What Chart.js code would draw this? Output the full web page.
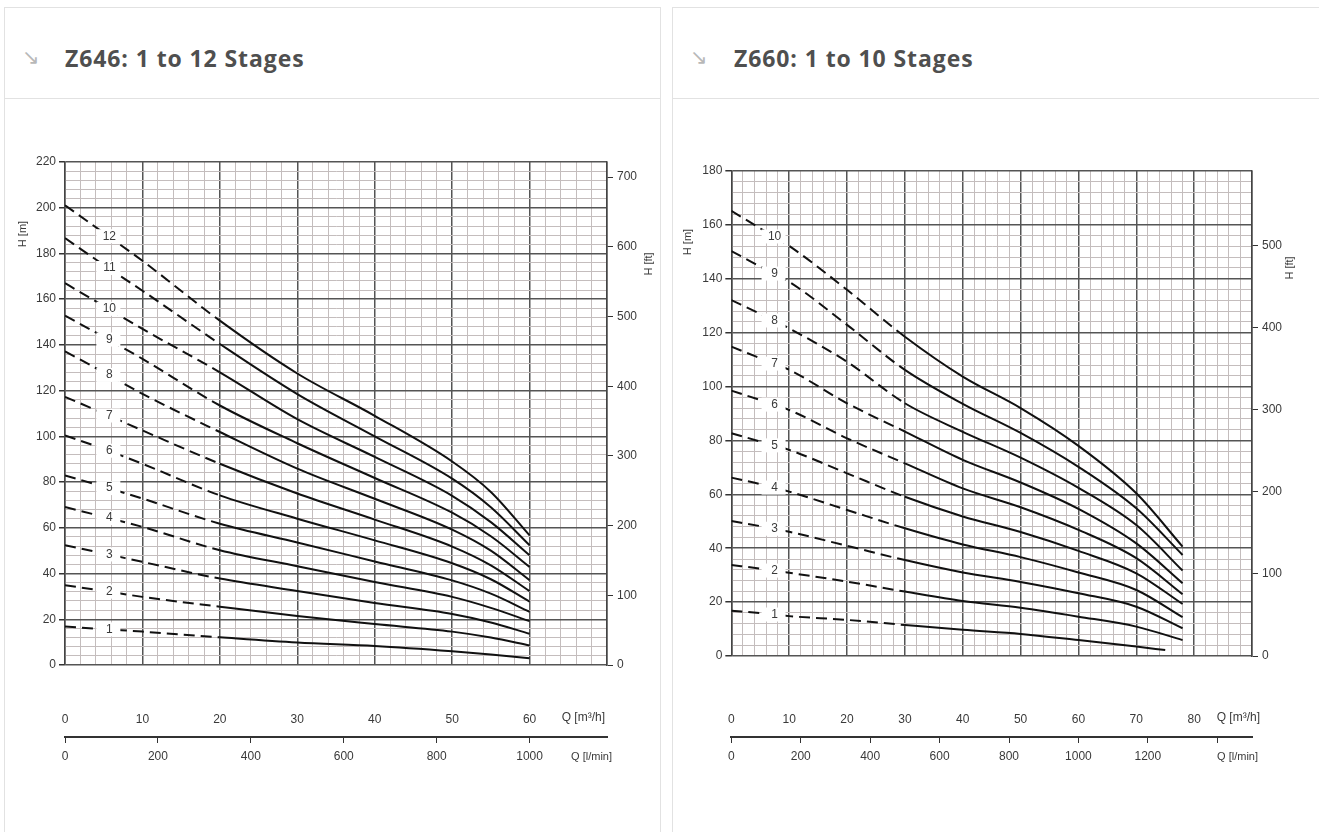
<!DOCTYPE html>
<html lang="en">
<head>
<meta charset="UTF-8">
<title>Z646 / Z660 pump curves</title>
<script src="https://cdn.jsdelivr.net/npm/chart.js"></script>
<style>
  body { margin: 0; background: #fff; width: 1319px; height: 832px; overflow: hidden; position: relative; }
  .card { position: absolute; top: 7px; height: 860px; border: 1px solid #e2e2e2; box-sizing: border-box; }
  .head { position: absolute; left: 0; right: 0; top: 0; height: 90px; border-bottom: 1px solid #e2e2e2; }
  .head .arrow { position: absolute; left: 17px; top: 37px; font: 21px "DejaVu Sans", sans-serif; color: #b8b8b8; }
  .head .title { position: absolute; top: 34px; font: bold 23px "Open Sans", Lato, sans-serif; letter-spacing: 0.9px; color: #4f4f4f; }
  .plot { position: absolute; top: 100px; }
</style>
</head>
<body>
<div class="card" style="left:4px; width:657px;">
  <div class="head"><span class="arrow">↘</span><span class="title" style="left:60px;">Z646: 1 to 12 Stages</span></div>
</div>
<div class="card" style="left:672px; width:660px;">
  <div class="head"><span class="arrow">↘</span><span class="title" style="left:61px;">Z660: 1 to 10 Stages</span></div>
</div>
<div class="plot" style="left:5px;"><canvas id="z646" width="650" height="680"></canvas></div>
<div class="plot" style="left:672px;"><canvas id="z660" width="647" height="680"></canvas></div>

<script>
// Z646 - flow Q [m3/h] and head H [m] per number of stages
const qZ646 = [0, 5, 10, 20, 30, 40, 50, 55, 60];
const z646S1  = [16.8, 15.7, 14.6, 12.1, 9.8, 8.3, 6.0, 4.6, 2.9];
const z646S2  = [34.9, 32.4, 29.8, 25.5, 21.4, 17.9, 14.6, 12.0, 8.5];
const z646S3  = [52.4, 48.8, 45.1, 37.8, 32.4, 27.1, 22.3, 18.6, 13.7];
const z646S4  = [69.1, 64.8, 60.4, 50.2, 43.2, 36.3, 29.8, 25.0, 19.2];
const z646S5  = [82.9, 78.0, 72.8, 61.8, 53.6, 45.3, 37.0, 31.2, 23.3];
const z646S6  = [100.4, 94.5, 88.0, 74.2, 64.0, 54.5, 44.5, 37.5, 27.7];
const z646S7  = [117.3, 110.0, 102.6, 88.0, 75.0, 63.6, 51.8, 43.6, 32.3];
const z646S8  = [137.2, 128.0, 118.6, 101.9, 85.9, 72.7, 59.2, 50.0, 37.1];
const z646S9  = [152.8, 143.5, 133.9, 113.5, 97.0, 81.8, 66.6, 56.3, 42.9];
const z646S10 = [167.0, 157.0, 147.0, 128.0, 107.5, 91.0, 74.0, 62.5, 48.0];
const z646S11 = [186.7, 175.0, 163.7, 140.4, 118.5, 100.0, 81.5, 69.0, 52.4];
const z646S12 = [201.1, 189.0, 176.8, 150.6, 127.5, 109.0, 89.0, 75.7, 56.7];
const z646FtTicks = [0, 100, 200, 300, 400, 500, 600, 700];
const z646LminTicks = [0, 200, 400, 600, 800, 1000];

// Z660
const qZ660 = [0, 5, 10, 20, 30, 40, 50, 60, 70, 78];
const qZ660S1 = [0, 5, 10, 20, 30, 40, 50, 60, 70, 75];
const z660S1  = [16.8, 15.9, 14.8, 13.4, 11.5, 9.7, 8.2, 5.9, 3.5, 2.2];
const z660S2  = [33.8, 32.4, 30.9, 27.6, 23.9, 20.4, 17.9, 14.6, 10.9, 5.9];
const z660S3  = [50.1, 48.2, 46.1, 40.9, 35.6, 31.0, 27.5, 23.3, 18.3, 10.3];
const z660S4  = [66.2, 63.8, 61.0, 54.2, 47.4, 41.4, 36.7, 31.0, 24.5, 14.4];
const z660S5  = [82.7, 79.6, 76.5, 67.8, 59.1, 51.8, 46.0, 39.0, 30.7, 19.3];
const z660S6  = [98.5, 95.0, 91.3, 80.8, 71.5, 62.2, 55.2, 46.8, 36.3, 22.9];
const z660S7  = [114.8, 110.5, 106.2, 93.8, 83.3, 72.8, 64.4, 54.6, 41.8, 27.0];
const z660S8  = [132.1, 127.0, 121.6, 109.2, 93.8, 83.2, 73.6, 62.4, 48.6, 31.7];
const z660S9  = [150.3, 144.5, 138.9, 122.9, 106.2, 93.6, 82.8, 70.2, 54.8, 37.5];
const z660S10 = [165.2, 158.7, 152.2, 135.9, 118.5, 103.7, 92.0, 78.0, 60.4, 40.6];
const z660FtTicks = [0, 100, 200, 300, 400, 500];
const z660LminTicks = [0, 200, 400, 600, 800, 1000, 1200, 1400];

const FT_PER_M = 3.28084;
const LMIN_PER_M3H = 1000 / 60;
const tickFont = { family: "'Liberation Sans', Arial, sans-serif", size: 12 };
const inkColor = '#3a3a3a';
const majorGrid = '#555';
const minorGrid = '#c4bdbd';

function pts(q, h) {
  return q.map((v, i) => ({ x: v, y: h[i] }));
}

// y pixel of a drawn curve at a given x pixel (for placing the stage numbers)
function yOnCurve(points, px) {
  for (let i = 1; i < points.length; i++) {
    const a = points[i - 1], b = points[i];
    if (px >= a.x && px <= b.x) return a.y + (b.y - a.y) * (px - a.x) / (b.x - a.x);
  }
  return points[0].y;
}

const annotate = {
  id: 'annotate',
  afterDatasetsDraw(chart, args, o) {
    const { ctx, chartArea: ca, scales } = chart;
    ctx.save();
    ctx.font = "12px 'Liberation Sans', Arial, sans-serif";
    ctx.textAlign = 'center';
    ctx.textBaseline = 'middle';
    const px = scales.x.getPixelForValue(o.labelQ);
    chart.data.datasets.forEach((ds, i) => {
      const py = yOnCurve(chart.getDatasetMeta(i).data, px);
      ctx.fillStyle = '#fff';
      ctx.fillRect(px - 12, py - 7, 24, 14);
      ctx.fillStyle = inkColor;
      ctx.fillText(ds.label, px + 1, py);
    });

    ctx.fillStyle = inkColor;
    const rot = (text, x, y) => {
      ctx.save();
      ctx.translate(x, y);
      ctx.rotate(-Math.PI / 2);
      ctx.fillText(text, 0, 0);
      ctx.restore();
    };
    ctx.font = "11px 'Liberation Sans', Arial, sans-serif";
    rot('H [m]', ca.left + o.hm[0], ca.top + o.hm[1]);
    rot('H [ft]', ca.right + o.hft[0], ca.top + o.hft[1]);
    ctx.font = "12px 'Liberation Sans', Arial, sans-serif";
    ctx.textAlign = 'right';
    ctx.fillText('Q [m³/h]', ca.right + o.qm3[0], ca.bottom + o.qm3[1]);
    ctx.font = "11px 'Liberation Sans', Arial, sans-serif";
    ctx.fillText('Q [l/min]', ca.right + o.ql[0], ca.bottom + o.ql[1]);
    ctx.restore();
  }
};

function fixedTicks(values) {
  return s => { s.ticks = values.map(v => ({ value: v })); };
}

function makeChart(id, cfg) {
  const datasets = cfg.series.map((s, i) => ({
    label: String(i + 1),
    data: pts(s.q, s.h),
    borderColor: '#111',
    borderWidth: 2,
    pointRadius: 0,
    fill: false,
    cubicInterpolationMode: 'monotone',
    segment: { borderDash: c => c.p1.parsed.x <= cfg.dashTo ? [11, 6] : undefined }
  }));

  new Chart(document.getElementById(id), {
    type: 'line',
    data: { datasets },
    plugins: [annotate],
    options: {
      responsive: false,
      animation: false,
      devicePixelRatio: 1,
      layout: { padding: { top: cfg.top, bottom: 3, left: 0, right: 0 } },
      plugins: { legend: { display: false }, tooltip: { enabled: false }, annotate: cfg.text },
      scales: {
        x: {
          type: 'linear', position: 'bottom', weight: 0,
          min: 0, max: cfg.qMax,
          ticks: {
            stepSize: 2, autoSkip: false, maxRotation: 0, padding: cfg.qPad,
            font: tickFont, color: inkColor,
            callback: v => (v % 10 === 0 && v <= cfg.qLabelMax) ? v : ''
          },
          grid: {
            drawTicks: false,
            color: c => c.tick && c.tick.value % 10 === 0 ? majorGrid : minorGrid,
            lineWidth: c => c.tick && c.tick.value % 10 === 0 ? 1.5 : 1
          },
          border: { display: false },
          afterFit: s => { s.height = cfg.qHeight; }
        },
        xl: {
          type: 'linear', position: 'bottom', weight: 1,
          min: 0, max: cfg.qMax * LMIN_PER_M3H,
          afterBuildTicks: fixedTicks(cfg.lminTicks),
          ticks: {
            autoSkip: false, maxRotation: 0, padding: 6,
            font: tickFont, color: inkColor,
            callback: v => v <= cfg.lLabelMax ? v : ''
          },
          grid: { drawOnChartArea: false, drawTicks: true, tickLength: 6, tickColor: '#333' },
          border: { display: true, color: '#333', width: 2 },
          afterFit: s => { s.height = 40; }
        },
        y: {
          min: 0, max: cfg.hMax,
          ticks: {
            stepSize: 4, autoSkip: false, padding: 3,
            font: tickFont, color: inkColor,
            callback: v => v % 20 === 0 ? v : ''
          },
          grid: {
            tickLength: 6,
            tickColor: c => c.tick && c.tick.value % 20 === 0 ? '#333' : 'rgba(0,0,0,0)',
            color: c => c.tick && c.tick.value % 20 === 0 ? majorGrid : minorGrid,
            lineWidth: c => c.tick && c.tick.value % 20 === 0 ? 1.5 : 1
          },
          border: { display: true, color: '#444', width: 1.5 },
          afterFit: s => { s.width = cfg.leftW; }
        },
        yft: {
          position: 'right',
          min: 0, max: cfg.hMax * FT_PER_M,
          afterBuildTicks: fixedTicks(cfg.ftTicks),
          ticks: { autoSkip: false, padding: 4, font: tickFont, color: inkColor },
          grid: { drawOnChartArea: false, tickLength: 6, tickColor: '#333' },
          border: { display: true, color: '#444', width: 1.5 },
          afterFit: s => { s.width = cfg.rightW; }
        }
      }
    }
  });
}

makeChart('z646', {
  qMax: 70, qLabelMax: 60, lLabelMax: 1000, hMax: 220, dashTo: 20,
  ftTicks: z646FtTicks, lminTicks: z646LminTicks,
  top: 62, leftW: 60, rightW: 48, qHeight: 72, qPad: 47,
  series: [z646S1, z646S2, z646S3, z646S4, z646S5, z646S6, z646S7, z646S8, z646S9, z646S10, z646S11, z646S12]
    .map(h => ({ q: qZ646, h })),
  text: { labelQ: 5.6, hm: [-42, 72], hft: [42, 102], qm3: [-2, 53], ql: [5, 92] }
});

makeChart('z660', {
  qMax: 90, qLabelMax: 80, lLabelMax: 1200, hMax: 180, dashTo: 30,
  ftTicks: z660FtTicks, lminTicks: z660LminTicks,
  top: 71, leftW: 59, rightW: 67, qHeight: 81, qPad: 56,
  series: [
    { q: qZ660S1, h: z660S1 },
    ...[z660S2, z660S3, z660S4, z660S5, z660S6, z660S7, z660S8, z660S9, z660S10].map(h => ({ q: qZ660, h }))
  ],
  text: { labelQ: 7.3, hm: [-43, 71], hft: [38, 97], qm3: [8, 62], ql: [6, 101] }
});
</script>
</body>
</html>
